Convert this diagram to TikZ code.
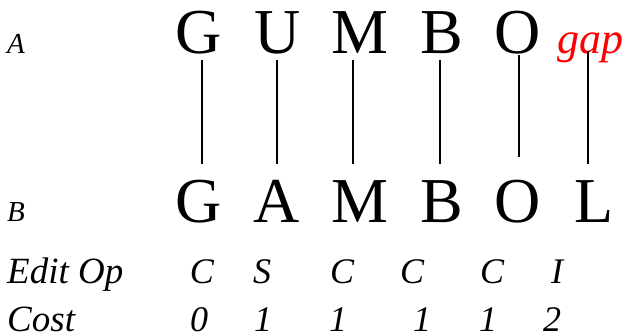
\documentclass[tikz,border=0pt]{standalone}
\usepackage{fontspec}
\setmainfont{Liberation Serif}
\begin{document}
\begin{tikzpicture}[x=1pt,y=-1pt,
  big/.style={anchor=base, inner sep=0pt, font=\fontsize{64}{64}\selectfont},
  lab/.style={anchor=base west, inner sep=0pt, font=\itshape\fontsize{29}{29}\selectfont},
  rowlab/.style={anchor=base west, inner sep=0pt, text depth=0pt, font=\itshape\fontsize{37}{37}\selectfont},
  cell/.style={anchor=base, inner sep=0pt, text depth=0pt, font=\itshape\fontsize{36}{36}\selectfont},
  gaptxt/.style={anchor=base, inner sep=0pt, text=red, font=\itshape\fontsize{44}{44}\selectfont},
  conn/.style={line width=1.5pt}]
\fill[white] (0,0) rectangle (623,335);
\useasboundingbox (0,0) rectangle (623,335);
% row labels
\node[lab] (la) at (7,53) {A};
\node[lab] (lb) at (7,221) {B};
\node[rowlab] (lop) at (7,283) {Edit Op};
\node[rowlab] (lcost) at (7,331) {Cost};
% string A
\node[big] (a1) at (199,53) {G};
\node[big] (a2) at (278,53) {U};
\node[big] (a3) at (360,53) {M};
\node[big] (a4) at (442,53) {B};
\node[big] (a5) at (518,53) {O};
\node[gaptxt] (a6) at (590,53) {gap};
% string B
\node[big] (b1) at (199,222) {G};
\node[big] (b2) at (277,222) {A};
\node[big] (b3) at (360,222) {M};
\node[big] (b4) at (442,222) {B};
\node[big] (b5) at (518,222) {O};
\node[big] (b6) at (594,222) {L};
% edit ops
\node[cell] (o1) at (202,283) {C};
\node[cell] (o2) at (262,283) {S};
\node[cell] (o3) at (342,283) {C};
\node[cell] (o4) at (412,283) {C};
\node[cell] (o5) at (492,283) {C};
\node[cell] (o6) at (557,283) {I};
% costs
\node[cell] (c1) at (199,331) {0};
\node[cell] (c2) at (263,331) {1};
\node[cell] (c3) at (338,331) {1};
\node[cell] (c4) at (422,331) {1};
\node[cell] (c5) at (488,331) {1};
\node[cell] (c6) at (552,331) {2};
% connector ends
\coordinate (t1) at (202,60);  \coordinate (u1) at (202,164);
\coordinate (t2) at (277,60);  \coordinate (u2) at (277,164);
\coordinate (t3) at (353,60);  \coordinate (u3) at (353,164);
\coordinate (t4) at (440,60);  \coordinate (u4) at (440,164);
\coordinate (t5) at (519,55);  \coordinate (u5) at (519,157);
\coordinate (t6) at (588,51);  \coordinate (u6) at (588,164);
\foreach \i in {1,...,6} \draw[conn] (t\i) -- (u\i);
\end{tikzpicture}
\end{document}
